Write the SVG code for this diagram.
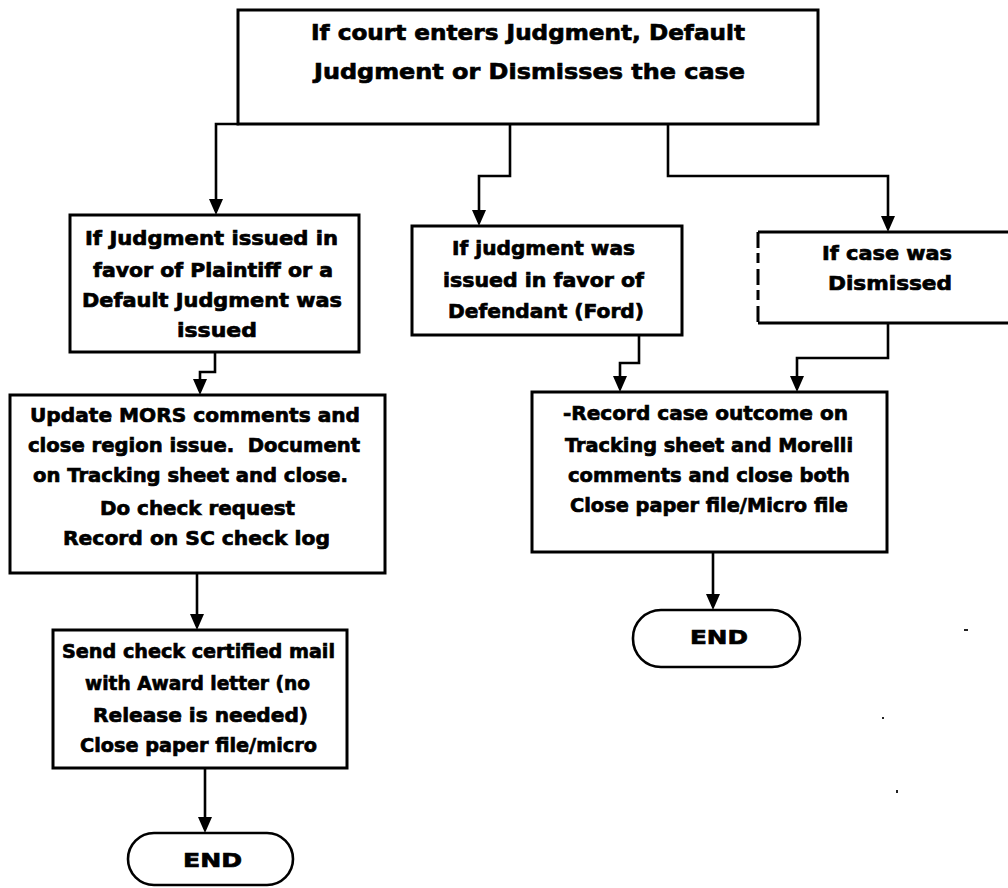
<svg xmlns="http://www.w3.org/2000/svg" width="1008" height="888" viewBox="0 0 1008 888">
  <style>
    .box { fill: #fff; stroke: #000; stroke-width: 3; }
    .term { fill: #fff; stroke: #000; stroke-width: 2.6; }
    .wire { fill: none; stroke: #000; stroke-width: 2.6; marker-end: url(#arrow); }
    .edge { fill: none; stroke: #000; stroke-width: 3; }
    text { font-family: "DejaVu Sans", "Liberation Sans", sans-serif; font-weight: bold; fill: #000; stroke: #000; stroke-width: 0.7; }
    .t20 { font-size: 20px; }
    .t22 { font-size: 22px; }
  </style>
  <defs>
    <marker id="arrow" viewBox="0 0 16 14" refX="12" refY="7" markerWidth="16" markerHeight="14" orient="auto" markerUnits="userSpaceOnUse">
      <path d="M0,0 L16,7 L0,14 z" fill="#000"/>
    </marker>
  </defs>

  <rect width="1008" height="888" fill="#fff"/>

  <!-- connectors -->
  <g id="connectors">
    <path class="wire" d="M239,124 H216 V211"/>
    <path class="wire" d="M510,124 V176 H479 V222"/>
    <path class="wire" d="M668,124 V176 H888 V228"/>
    <path class="wire" d="M215,352 V372 H200 V391"/>
    <path class="wire" d="M639,335 V363 H620 V388"/>
    <path class="wire" d="M888,323 V358 H797 V388"/>
    <path class="wire" d="M197,573 V626"/>
    <path class="wire" d="M205,768 V829"/>
    <path class="wire" d="M713,552 V606"/>
  </g>

  <!-- decision: court outcome -->
  <g id="court-outcome">
    <rect class="box" x="238" y="10" width="580" height="114"/>
    <text class="t22" x="311" y="40" textLength="434" lengthAdjust="spacingAndGlyphs">If court enters Judgment, Default</text>
    <text class="t22" x="314" y="79" textLength="431" lengthAdjust="spacingAndGlyphs">Judgment or Dismisses the case</text>
  </g>

  <!-- branch: plaintiff / default judgment -->
  <g id="plaintiff-judgment">
    <rect class="box" x="70" y="215" width="289" height="137"/>
    <text class="t20" x="85" y="245" textLength="253" lengthAdjust="spacingAndGlyphs">If Judgment issued in</text>
    <text class="t20" x="93" y="277" textLength="240" lengthAdjust="spacingAndGlyphs">favor of Plaintiff or a</text>
    <text class="t20" x="82" y="307" textLength="260" lengthAdjust="spacingAndGlyphs">Default Judgment was</text>
    <text class="t20" x="177" y="337" textLength="80" lengthAdjust="spacingAndGlyphs">issued</text>
  </g>

  <!-- branch: defendant judgment -->
  <g id="defendant-judgment">
    <rect class="box" x="412" y="226" width="270" height="109"/>
    <text class="t20" x="452" y="255" textLength="183" lengthAdjust="spacingAndGlyphs">If judgment was</text>
    <text class="t20" x="443" y="287" textLength="201" lengthAdjust="spacingAndGlyphs">issued in favor of</text>
    <text class="t20" x="448" y="318" textLength="196" lengthAdjust="spacingAndGlyphs">Defendant (Ford)</text>
  </g>

  <!-- branch: dismissed -->
  <g id="dismissed">
    <rect x="758" y="232" width="260" height="91" fill="#fff"/>
    <path class="edge" d="M758,232 H1012 M758,323 H1012"/>
    <path class="edge" d="M758,232 V323" stroke-width="2" stroke-dasharray="16 5 10 6"/>
    <text class="t20" x="822" y="260" textLength="130" lengthAdjust="spacingAndGlyphs">If case was</text>
    <text class="t20" x="828" y="290" textLength="124" lengthAdjust="spacingAndGlyphs">Dismissed</text>
  </g>

  <!-- process: update MORS -->
  <g id="update-mors">
    <rect class="box" x="10" y="395" width="375" height="178"/>
    <text class="t20" x="30" y="422" textLength="330" lengthAdjust="spacingAndGlyphs">Update MORS comments and</text>
    <text class="t20" x="28" y="452" textLength="332" lengthAdjust="spacingAndGlyphs" xml:space="preserve">close region issue.  Document</text>
    <text class="t20" x="33" y="482" textLength="315" lengthAdjust="spacingAndGlyphs">on Tracking sheet and close.</text>
    <text class="t20" x="100" y="515" textLength="195" lengthAdjust="spacingAndGlyphs">Do check request</text>
    <text class="t20" x="63" y="545" textLength="267" lengthAdjust="spacingAndGlyphs">Record on SC check log</text>
  </g>

  <!-- process: record outcome -->
  <g id="record-outcome">
    <rect class="box" x="532" y="392" width="355" height="160"/>
    <text class="t20" x="563" y="420" textLength="285" lengthAdjust="spacingAndGlyphs">-Record case outcome on</text>
    <text class="t20" x="565" y="452" textLength="288" lengthAdjust="spacingAndGlyphs">Tracking sheet and Morelli</text>
    <text class="t20" x="568" y="482" textLength="282" lengthAdjust="spacingAndGlyphs">comments and close both</text>
    <text class="t20" x="570" y="512" textLength="278" lengthAdjust="spacingAndGlyphs">Close paper file/Micro file</text>
  </g>

  <!-- process: send check -->
  <g id="send-check">
    <rect class="box" x="53" y="630" width="294" height="138"/>
    <text class="t20" x="62" y="658" textLength="273" lengthAdjust="spacingAndGlyphs">Send check certified mail</text>
    <text class="t20" x="85" y="690" textLength="225" lengthAdjust="spacingAndGlyphs">with Award letter (no</text>
    <text class="t20" x="93" y="722" textLength="215" lengthAdjust="spacingAndGlyphs">Release is needed)</text>
    <text class="t20" x="80" y="752" textLength="237" lengthAdjust="spacingAndGlyphs">Close paper file/micro</text>
  </g>

  <!-- terminators -->
  <g id="end-right">
    <rect class="term" x="633" y="610" width="167" height="57" rx="28" ry="28"/>
    <text class="t20" x="690" y="644" textLength="58" lengthAdjust="spacingAndGlyphs">END</text>
  </g>
  <g id="end-left">
    <rect class="term" x="128" y="833" width="165" height="52" rx="26" ry="26"/>
    <text class="t20" x="183" y="867" textLength="59" lengthAdjust="spacingAndGlyphs">END</text>
  </g>

  <!-- specks -->
  <g fill="#222">
    <rect x="964" y="629" width="4" height="2"/>
    <rect x="882" y="717" width="2" height="2"/>
    <rect x="896" y="790" width="2" height="3"/>
  </g>
</svg>
